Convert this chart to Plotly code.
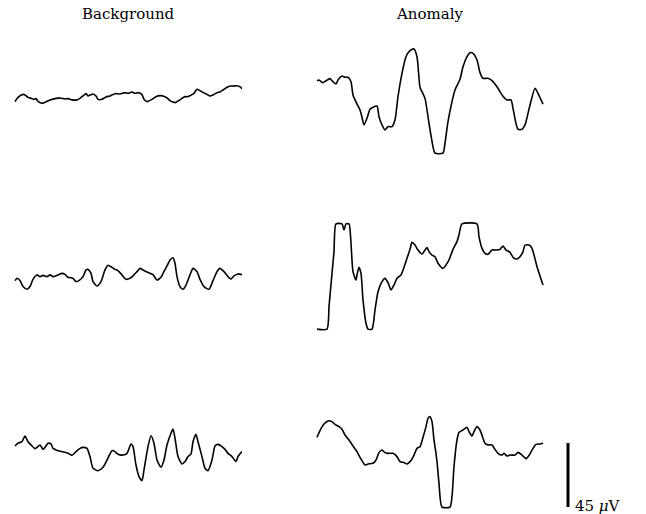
import plotly.graph_objects as go

# Six EEG epochs (time in samples, amplitude in microvolts), clipped at +/-37 uV
Y_CLIP = 37.0
SCALE_UV = 45

t_bg1 = [1, 4, 9, 11, 14, 18, 20, 22, 24, 28, 31, 36, 41, 46, 51, 54, 58, 63, 66, 69, 72, 74, 77, 79, 82, 84,
         88, 92, 96, 101, 106, 111, 114, 118, 121, 124, 128, 130, 133, 138, 142, 146, 149, 153, 156, 159, 161,
         164, 168, 171, 174, 178, 180, 183, 186, 189, 193, 196, 199, 203, 206, 209, 213, 216, 219, 223, 226, 228]
uv_bg1 = [-0.8, 2.2, 4.3, 3.9, 2.2, 1.3, 0.8, 1.3, -0.6, -2.0, -1.3, 0.4, 1.3, 1.8, 1.1, 1.3, 0.4, 0.4, 1.5,
          3.2, 4.8, 3.2, 4.1, 4.6, 3.2, 0.8, 0.8, 2.5, 3.2, 4.8, 4.6, 5.5, 5.0, 6.0, 5.0, 5.5, 4.1, 0.8, -0.8,
          0.8, 2.7, 3.4, 3.2, 1.8, -0.1, -1.1, -1.5, -0.4, 1.5, 2.7, 2.7, 4.1, 5.0, 7.9, 6.9, 5.7, 4.3, 3.2,
          3.9, 5.5, 6.0, 7.4, 9.3, 10.2, 10.2, 10.4, 9.7, 8.3]

t_an1 = [1, 3, 7, 10, 14, 17, 20, 22, 26, 29, 32, 35, 37, 41, 44, 46, 48, 51, 54, 57, 61, 63, 66, 69, 72, 76,
         79, 82, 86, 90, 94, 98, 101, 104, 106, 109, 113, 117, 119, 127, 129, 132, 136, 139, 144, 147, 151,
         154, 157, 161, 164, 167, 172, 176, 181, 186, 191, 195, 197, 200, 202, 206, 209, 214, 219, 222, 227]
uv_an1 = [13.9, 14.4, 12.5, 13.9, 15.4, 13.2, 11.6, 14.4, 17.2, 16.3, 16.3, 13.2, 3.9, -2.5, -6.7, -11.8,
          -17.2, -12.5, -6.2, -4.8, -3.9, -11.4, -17.2, -20.7, -18.4, -18.4, -13.7, 2.7, 19.1, 30.8, 35.0,
          36.2, 30.8, 9.3, 6.2, 1.5, -16.1, -32.5, -37.0, -37.0, -30.1, -14.9, -0.8, 7.4, 14.9, 23.8, 30.8,
          33.6, 33.2, 28.5, 19.6, 15.6, 15.6, 13.9, 9.7, 3.9, 0.4, 0.4, -5.5, -16.1, -20.3, -20.3, -17.2,
          -3.2, 8.6, 5.0, -2.5]

t_bg2 = [1, 3, 6, 9, 13, 16, 19, 23, 26, 29, 33, 36, 39, 43, 48, 51, 54, 59, 62, 65, 69, 72, 74, 77, 79, 83,
         87, 91, 94, 98, 101, 104, 108, 112, 116, 119, 123, 126, 129, 133, 136, 139, 143, 147, 149, 153, 156,
         159, 161, 163, 166, 169, 172, 176, 179, 183, 186, 190, 195, 199, 203, 206, 210, 214, 217, 220, 224, 228]
uv_bg2 = [-2.9, -1.3, -2.9, -7.1, -9.0, -7.1, -2.0, 1.1, -0.1, 0.8, -0.1, 1.1, -0.1, 0.8, 2.2, 1.5, -0.6,
          -1.3, -3.6, -2.9, -0.1, 4.6, 5.0, 2.2, -3.6, -6.7, -3.6, 4.6, 7.9, 6.4, 5.0, 4.1, 1.1, -2.0, -1.3,
          0.4, 3.4, 5.7, 4.6, 3.2, 2.2, 1.3, -2.5, -0.6, 2.2, 7.4, 11.6, 13.2, 9.3, -0.1, -7.1, -9.0, -6.0,
          1.1, 5.7, 3.4, -2.0, -7.1, -9.0, -2.9, 3.4, 5.7, 3.4, -0.1, -1.8, 0.4, 1.8, 1.3]

t_an2 = [1, 11, 13, 16, 18, 20, 26, 28, 30, 33, 35, 37, 40, 41, 43, 45, 47, 50, 52, 56, 59, 62, 66, 69, 72,
         75, 78, 81, 85, 88, 91, 94, 96, 99, 102, 106, 108, 111, 113, 116, 119, 122, 127, 130, 133, 137, 141,
         143, 146, 161, 163, 166, 169, 172, 176, 181, 184, 187, 190, 194, 197, 201, 204, 207, 209, 213, 216,
         221, 227]
uv_an2 = [-37.0, -37.0, -21.2, 2.2, 17.5, 37.0, 37.0, 32.7, 37.0, 37.0, 23.3, 3.4, -2.5, 1.1, 6.4, 2.2,
          -16.5, -32.9, -37.0, -37.0, -23.6, -10.7, -3.6, -1.3, -4.3, -9.5, -6.0, -1.3, 1.1, 6.4, 12.8, 19.1,
          24.0, 22.2, 18.6, 15.8, 17.5, 20.3, 17.5, 15.1, 13.9, 9.3, 5.7, 8.1, 11.6, 19.1, 24.5, 29.2, 37.0,
          37.0, 28.0, 19.8, 16.3, 15.6, 18.6, 18.6, 19.1, 21.4, 18.6, 17.0, 13.5, 12.3, 13.9, 17.5, 22.1,
          22.1, 19.8, 6.9, -6.0]

t_bg3 = [1, 4, 8, 11, 14, 18, 21, 23, 26, 29, 31, 34, 37, 39, 44, 49, 54, 58, 62, 66, 69, 73, 76, 79, 84, 89,
         93, 98, 101, 104, 109, 113, 117, 119, 122, 125, 128, 130, 134, 137, 140, 143, 147, 150, 153, 157,
         159, 161, 164, 168, 171, 174, 177, 179, 182, 184, 188, 191, 194, 198, 201, 204, 208, 211, 214, 218,
         222, 224, 228]
uv_bg3 = [6.0, 7.9, 9.0, 13.0, 9.0, 6.0, 4.1, 5.0, 6.7, 3.6, 5.0, 7.9, 7.4, 4.3, 2.7, 1.8, 0.8, -0.6, 2.0,
          4.3, 5.0, 4.3, -1.5, -9.7, -11.4, -9.0, -3.9, 2.7, 2.0, 0.1, -0.4, 0.8, 7.4, 5.5, -7.4, -15.6,
          -18.4, -10.9, 5.5, 13.2, 7.9, -3.9, -9.0, -3.9, 6.7, 14.9, 17.9, 11.4, -1.5, -6.7, -5.0, -1.5, 0.4,
          9.0, 14.2, 9.0, -1.5, -9.7, -11.4, -3.9, 6.0, 7.1, 5.5, 3.6, 0.8, -1.5, -5.0, -1.5, 2.0]

t_an3 = [1, 4, 8, 12, 16, 19, 23, 26, 29, 33, 37, 41, 44, 49, 52, 57, 60, 63, 66, 69, 72, 77, 81, 84, 88, 91,
         95, 98, 101, 104, 107, 110, 112, 114, 116, 118, 120, 121, 123, 126, 134, 136, 138, 141, 143, 147,
         151, 153, 156, 158, 161, 164, 167, 169, 172, 176, 179, 182, 186, 188, 191, 194, 199, 202, 206, 210,
         214, 217, 220, 224, 227]
uv_an3 = [12.1, 16.8, 21.4, 23.6, 23.1, 21.2, 19.6, 17.7, 13.7, 10.2, 6.0, 2.0, -2.0, -7.4, -6.7, -6.2,
          -3.9, 1.3, 3.2, 1.3, 0.8, 0.8, -1.5, -5.0, -5.7, -6.7, -4.3, -0.4, 4.3, 5.5, 12.1, 19.6, 25.4,
          26.6, 23.1, 10.2, 0.8, -5.0, -20.3, -37.0, -37.0, -29.7, -8.6, 10.2, 15.4, 17.2, 19.1, 16.1, 13.0,
          16.1, 19.6, 17.2, 11.4, 7.9, 6.7, 6.7, 3.6, 0.8, -0.4, 0.8, -1.1, -0.4, -0.4, 1.5, -0.4, -2.9,
          0.4, 4.3, 7.1, 7.4, 7.9]

column_titles = ["Background", "Anomaly"]
scale_label = "45 <i>μ</i>V"

panels = [
    (t_bg1, uv_bg1), (t_an1, uv_an1),
    (t_bg2, uv_bg2), (t_an2, uv_an2),
    (t_bg3, uv_bg3), (t_an3, uv_an3),
]

W, H = 646, 514
col_domains = [[14 / W, 242 / W], [316 / W, 544 / W]]
row_domains = [[0.6980, 0.9110], [0.3556, 0.5686], [0.0093, 0.2223]]
Y_RANGE = [-38.5, 38.5]
T_RANGE = [0, 228]

fig = go.Figure()
layout_axes = {}
for i, (t, uv) in enumerate(panels):
    r, c = divmod(i, 2)
    n = i + 1
    xa = "x" if n == 1 else f"x{n}"
    ya = "y" if n == 1 else f"y{n}"
    fig.add_trace(go.Scatter(
        x=t, y=uv, xaxis=xa, yaxis=ya, mode="lines",
        line=dict(color="black", width=1.6, shape="spline", smoothing=0.6),
        hoverinfo="skip", showlegend=False,
    ))
    key = "" if n == 1 else str(n)
    layout_axes[f"xaxis{key}"] = dict(domain=col_domains[c], range=T_RANGE, visible=False,
                                      anchor=ya, fixedrange=True)
    layout_axes[f"yaxis{key}"] = dict(domain=row_domains[r], range=Y_RANGE, visible=False,
                                      anchor=xa, fixedrange=True)

fig.update_layout(**layout_axes)

# Column headings
for c, title in enumerate(column_titles):
    fig.add_annotation(
        x=sum(col_domains[c]) / 2, y=1 - 14 / H, xref="paper", yref="paper",
        text=title, showarrow=False, xanchor="center", yanchor="middle",
        font=dict(family="DejaVu Serif", size=15, color="black"),
    )

# Amplitude scale bar, drawn on the bottom-right panel's amplitude axis
fig.add_shape(
    type="line", xref="paper", yref="y6",
    x0=568 / W, x1=568 / W, y0=-Y_CLIP, y1=-Y_CLIP + SCALE_UV,
    line=dict(color="black", width=3),
)
fig.add_annotation(
    x=573 / W, y=-Y_CLIP + 1, xref="paper", yref="y6",
    text=scale_label, showarrow=False, xanchor="left", yanchor="middle",
    font=dict(family="DejaVu Serif", size=15, color="black"),
)

fig.update_layout(
    width=W, height=H, margin=dict(l=0, r=0, t=0, b=0),
    paper_bgcolor="white", plot_bgcolor="white",
)

fig.write_html("out.html")
